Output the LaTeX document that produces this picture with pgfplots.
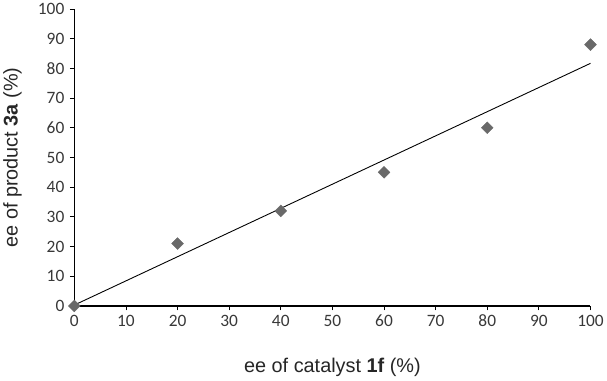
\documentclass[border=0pt]{standalone}
\usepackage{fontspec}
\setmainfont{Liberation Sans}
\newfontfamily\tickfont{Carlito}
\usepackage{pgfplots}
\pgfplotsset{compat=1.18}
\definecolor{markgray}{RGB}{105,105,105}
\begin{document}
\begin{tikzpicture}[x=1bp,y=1bp]
\begin{axis}[
  scale only axis,
  width=518bp, height=298bp,
  xmin=0, xmax=100, ymin=0, ymax=100,
  xtick={0,10,...,100}, ytick={0,10,...,100},
  axis x line*=bottom, axis y line*=left,
  axis line style={line width=1.3pt},
  tick style={black, line width=0.9pt},
  tick align=outside, major tick length=4.5bp,
  clip=false,
  /pgf/number format/assume math mode=true,
  ticklabel style={font=\tickfont\fontsize{17.5}{19}\selectfont, text=black!78},
  xticklabel style={yshift=-1bp},
  yticklabel style={xshift=-2bp},
  xlabel={ee of catalyst \textbf{1f} (\%)},
  ylabel={ee of product \textbf{3a} (\%)},
  label style={font=\fontsize{20}{22}\selectfont, text=black!85},
  xlabel style={at={(axis description cs:0.5,0)}, anchor=center, yshift=-62bp},
  ylabel style={at={(axis description cs:0,0.5)}, anchor=center, yshift=62bp},
]
\addplot[black, line width=0.9pt] coordinates {(0,0.3) (100,81.7)};
\addplot[only marks, mark=square*, mark size=4.2bp, mark options={rotate=45}, color=markgray, fill=markgray] coordinates {
(0,0) (20,21) (40,32) (60,45) (80,60) (100,88)};
\end{axis}
\end{tikzpicture}
\end{document}
